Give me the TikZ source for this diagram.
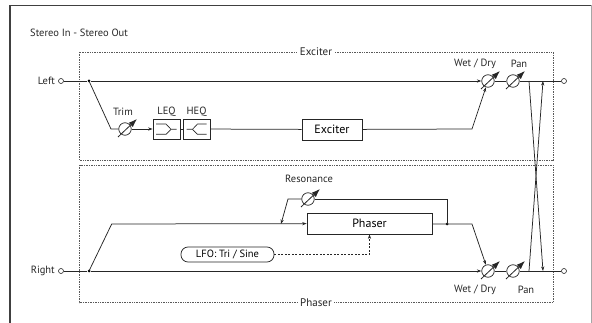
\documentclass[tikz,border=0pt]{standalone}
\usepackage{fontspec}
\setmainfont{PT Sans}
\usetikzlibrary{arrows.meta,calc}
\begin{document}
\begin{tikzpicture}[x=1pt,y=-1pt,
  font=\fontsize{10.5}{11}\selectfont,
  line/.style={draw=black!85, line width=0.75pt},
  arr/.style={line, -{Stealth[length=4.5pt,width=3.2pt]}},
  dotline/.style={draw=black!65, line width=0.65pt, dash pattern=on 0.8pt off 0.9pt},
  lab/.style={inner sep=0pt, text=black!85},
  term/.style={circle, draw=black!85, line width=0.6pt, minimum size=5pt, inner sep=0pt, fill=white},
  jdot/.style={circle, fill=black, minimum size=3pt, inner sep=0pt},
  knob/.style={circle, draw=black!85, line width=0.75pt, minimum size=12.5pt, inner sep=0pt, fill=white},
  karrow/.style={draw=black!85, line width=0.8pt, -{Latex[length=8.5pt,width=6pt]}},
  eqbox/.style={draw=black!85, line width=0.75pt, minimum width=27pt, minimum height=20pt, inner sep=0pt},
  bigbox/.style={draw=black!85, line width=0.75pt, minimum height=21pt, inner sep=0pt, font=\fontsize{12}{13}\selectfont},
  pill/.style={draw=black!85, line width=0.75pt, rounded corners=7pt, minimum width=93pt, minimum height=15pt, inner sep=0pt},
  rlab/.style={fill=white, inner sep=2.5pt, text=black!85, font=\fontsize{11}{12}\selectfont}
]
\useasboundingbox (0,0) rectangle (592,323);
% outer frame
\draw[draw=black!75, line width=1.6pt] (10,323) -- (10,5.5) -- (592,5.5);
\draw[draw=black!35, line width=0.6pt] (591,5.5) -- (591,323);
\node[lab, anchor=west] (title) at (30,33) {Stereo In - Stereo Out};

% dotted regions
\draw[dotline] (79.5,52) rectangle (553,160.5);
\draw[dotline] (79.5,165) rectangle (553,302.7);
\node[rlab] (excT) at (316,52) {Exciter};
\node[rlab] (phT) at (316,302.7) {Phaser};

% ---------- Left channel ----------
\node[term] (Lin) at (61,81) {};
\node[lab, anchor=east] (Llab) at (55,81) {Left};
\node[jdot] (jL) at (89,81) {};
\coordinate (tb) at (111,129);
\node[knob] (trim) at (125,129) {};
\node[lab] (trimlab) at (123,112) {Trim};
\node[eqbox] (leq) at (166.5,129) {};
\node[eqbox] (heq) at (196.5,129) {};
\node[lab] (leqlab) at (166.5,112) {LEQ};
\node[lab] (heqlab) at (196.5,112) {HEQ};
\node[bigbox, minimum width=60pt] (exc) at (332,129.5) {Exciter};
\coordinate (eb) at (472,129);
\node[knob] (wdL) at (488,81) {};
\node[knob] (panL) at (513,81) {};
\node[term] (Lout) at (564,81) {};
\node[lab] (wdLlab) at (475,64) {Wet / Dry};
\node[lab] (panLlab) at (519,64) {Pan};

\draw[line] (Lin) -- (jL);
\draw[arr] (jL) -- (wdL);
\draw[line] (wdL) -- (panL);
\draw[line] (panL) -- (Lout);
\draw[line] (jL.center) -- (tb) -- (trim);
\draw[arr] (trim) -- (leq);
\draw[line] (leq) -- (heq);
\draw[line] (heq) -- (exc);
\draw[arr] (exc) -- (eb) -- (wdL);

% EQ symbols
\draw[line, line width=0.65pt] (156,124) -- (166,124) -- (171,129.3) -- (176.7,129.3);
\draw[line, line width=0.65pt] (156,134.3) -- (166,134.3) -- (171,129.3);
\draw[line, line width=0.65pt] (186.5,129.3) -- (192.5,129.3) -- (197.5,124) -- (206.7,124);
\draw[line, line width=0.65pt] (192.5,129.3) -- (197.5,134.3) -- (206.7,134.3);

% ---------- Right channel ----------
\node[term] (Rin) at (61,271) {};
\node[lab, anchor=east] (Rlab) at (55,271) {Right};
\node[jdot] (jR) at (89,271) {};
\coordinate (pb) at (111.7,224);
\node[bigbox, minimum width=125pt] (ph) at (369.5,223.5) {Phaser};
\node[jdot] (jP) at (447,224) {};
\coordinate (fb2) at (288,199);
\coordinate (fb3) at (281,224);
\node[knob] (res) at (308,199) {};
\node[lab] (reslab) at (309,179) {Resonance};
\coordinate (pe) at (472,224);
\node[knob] (wdR) at (488,271) {};
\node[knob] (panR) at (513,271) {};
\node[term] (Rout) at (564,271) {};
\node[lab] (wdRlab) at (475,290) {Wet / Dry};
\node[lab] (panRlab) at (526,290) {Pan};
\node[pill] (lfo) at (227.5,254.5) {LFO: Tri / Sine};

\draw[line] (Rin) -- (jR);
\draw[arr] (jR) -- (wdR);
\draw[line] (wdR) -- (panR);
\draw[line] (panR) -- (Rout);
\draw[arr] (jR.center) -- (pb) -- (ph);
\draw[line] (ph) -- (jP.center);
\draw[arr] (jP.center) -- (pe) -- (wdR);
\draw[line] (jP.center) |- (res);
\draw[arr] (res) -- (fb2) -- (fb3);
\draw[arr, dashed, dash pattern=on 2pt off 1.5pt] (lfo.east) -| (ph.south);

% crossing
\coordinate (cL) at (529,81);
\coordinate (aL) at (543,81);
\coordinate (cR) at (529,271);
\coordinate (aR) at (543,271);
\draw[arr] (cL) -- (aR);
\draw[arr] (cR) -- (aL);

% knob arrows
\foreach \k in {trim,wdL,panL,res,wdR,panR}{
  \draw[karrow] ($(\k)+(-7,8)$) -- ($(\k)+(12,-10)$);
}
\end{tikzpicture}
\end{document}
